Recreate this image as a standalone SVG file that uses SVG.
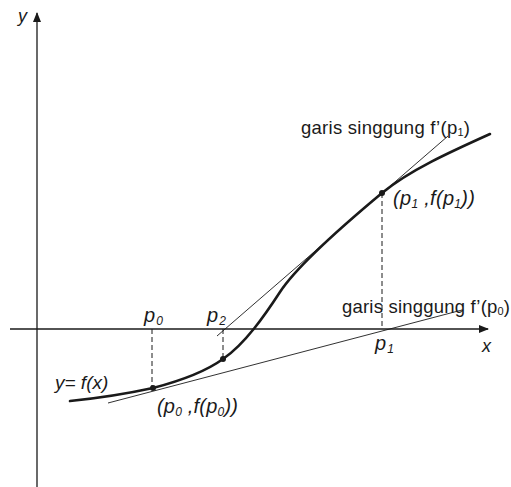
<svg xmlns="http://www.w3.org/2000/svg" width="511" height="487" viewBox="0 0 511 487">
<style>
.axis{stroke:#1a1a1a;stroke-width:1.3;fill:none}
.tan{stroke:#1a1a1a;stroke-width:0.9;fill:none}
.curve{stroke:#1a1a1a;stroke-width:2.6;fill:none;stroke-linecap:round}
.dash{stroke:#1a1a1a;stroke-width:1;stroke-dasharray:5,3;fill:none}
.lbl{font-family:"Liberation Sans",Arial,sans-serif;font-style:italic;fill:#1a1a1a}
.txt{font-family:"Liberation Sans",Arial,sans-serif;fill:#1a1a1a}
.dot{fill:#1a1a1a}
</style>
<defs>
<marker id="arr" viewBox="0 0 10 8" refX="9" refY="4" markerWidth="10" markerHeight="8" markerUnits="userSpaceOnUse" orient="auto">
<path d="M0,0 L10,4 L0,8 Z" fill="#1a1a1a"/>
</marker>
</defs>
<g id="axes">
<line class="axis" x1="37" y1="487" x2="37" y2="13" marker-end="url(#arr)"/>
<line class="axis" x1="10" y1="329" x2="488" y2="329" marker-end="url(#arr)"/>
<text class="lbl" x="18" y="22" font-size="18">y</text>
<text class="lbl" x="482" y="352" font-size="18">x</text>
</g>
<g id="connectors">
<line class="tan" x1="108" y1="403" x2="462" y2="310"/>
<line class="tan" x1="217" y1="336" x2="448" y2="136"/>
<line class="dash" x1="152" y1="329" x2="152" y2="388"/>
<line class="dash" x1="223" y1="329" x2="223" y2="359"/>
<line class="dash" x1="382" y1="193" x2="382" y2="329"/>
</g>
<g id="curve">
<path class="curve" d="M70 401 C100 398 130 393 153 388 C176 382 205 372 223 359 C245 344 265 315 280 292 C295 269 340 228 382 193 C410 170 450 152 490 134"/>
<text class="lbl" x="55" y="389" font-size="19">y= f(x)</text>
</g>
<g id="p0">
<circle class="dot" cx="153" cy="388" r="3"/>
<text class="lbl" x="144" y="322" font-size="20">p<tspan font-size="12" dy="3" dx="1">0</tspan></text>
<text class="lbl" x="157" y="413" font-size="20" textLength="81" lengthAdjust="spacing">(p<tspan font-size="12" dy="3">0</tspan><tspan dy="-3"> ,f(p</tspan><tspan font-size="12" dy="3">0</tspan><tspan dy="-3">))</tspan></text>
</g>
<g id="p2">
<circle class="dot" cx="223" cy="359" r="3"/>
<text class="lbl" x="207" y="322" font-size="20">p<tspan font-size="12" dy="3" dx="1">2</tspan></text>
</g>
<g id="p1">
<circle class="dot" cx="382" cy="193" r="3"/>
<text class="lbl" x="375" y="350" font-size="20">p<tspan font-size="12" dy="3" dx="1">1</tspan></text>
<text class="lbl" x="393" y="205" font-size="20" textLength="82" lengthAdjust="spacing">(p<tspan font-size="12" dy="3">1</tspan><tspan dy="-3"> ,f(p</tspan><tspan font-size="12" dy="3">1</tspan><tspan dy="-3">))</tspan></text>
</g>
<g id="tangent-labels">
<text class="txt" x="301" y="134" font-size="18.5" textLength="169" lengthAdjust="spacing">garis singgung f’(p<tspan font-size="11" dy="2">1</tspan><tspan dy="-2">)</tspan></text>
<text class="txt" x="342" y="313" font-size="18.5" textLength="168" lengthAdjust="spacing">garis singgung f’(p<tspan font-size="11" dy="2">0</tspan><tspan dy="-2">)</tspan></text>
</g>
</svg>
